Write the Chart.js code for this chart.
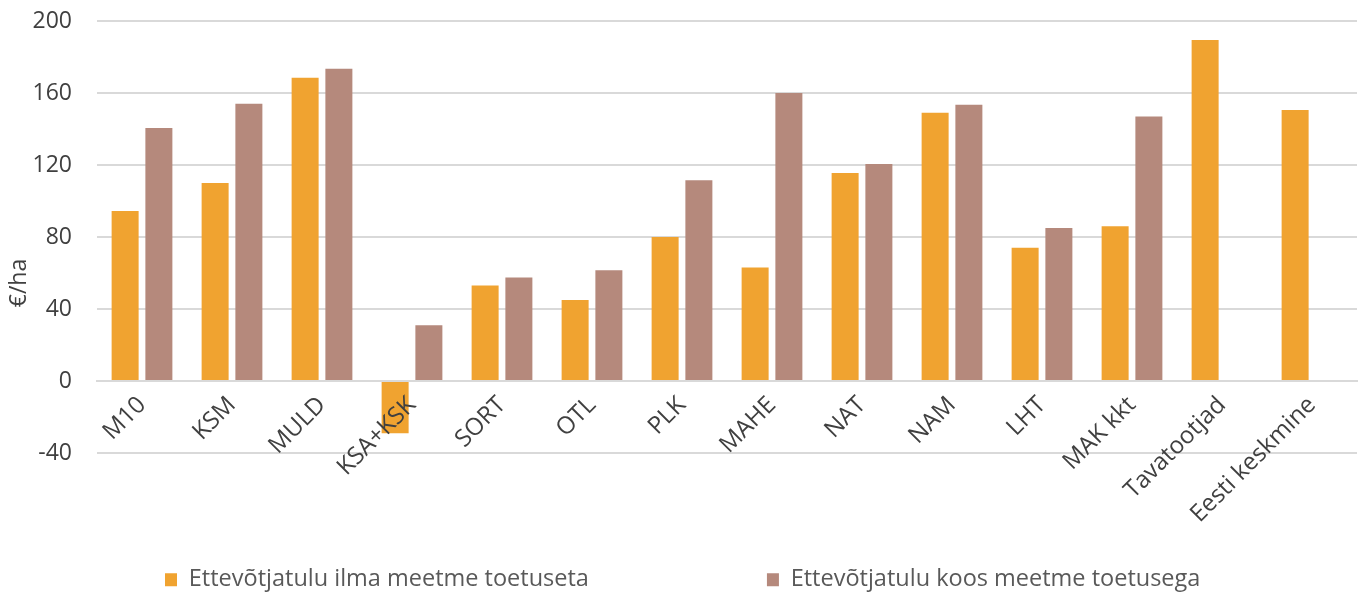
<!DOCTYPE html>
<html>
<head>
<meta charset="utf-8">
<script src="https://cdn.jsdelivr.net/npm/chart.js@4"></script>
<style>
  body { margin: 0; background: #fff; }
  #wrap { width: 1365px; height: 596px; }
</style>
</head>
<body>
<div id="wrap"><canvas id="tuluChart"></canvas></div>
<script>
const categories = ['M10', 'KSM', 'MULD', 'KSA+KSK', 'SORT', 'OTL', 'PLK', 'MAHE', 'NAT', 'NAM', 'LHT', 'MAK kkt', 'Tavatootjad', 'Eesti keskmine'];
const ilmaToetuseta = [94.5, 110, 168.5, -29, 53, 45, 80, 63, 115.5, 149, 74, 86, 189.5, 150.5];
const kooseToetusega = [140.5, 154, 173.5, 31, 57.5, 61.5, 111.5, 160, 120.5, 153.5, 85, 147, null, null];
const yTicks = [-40, 0, 40, 80, 120, 160, 200];
const yTitle = '€/ha';

const fontFamily = '"Open Sans", sans-serif';
const legendGap = 178;

// legend sits far below the plot, with a wide gap between its two items
const legendPlacer = {
    id: 'legendPlacer',
    beforeInit(chart) {
        const legend = chart.legend;
        const fit = legend.fit;
        legend.fit = function() {
            const w = this.maxWidth;
            this.maxWidth = 3000; // keep both items on one row
            fit.call(this);
            this.maxWidth = w;
            this.width = w;
            this.height = 143;
        };
    },
    afterLayout(chart) {
        const legend = chart.legend;
        legend.top -= 63;
        legend.left = 165 - legendGap;
        legend.right = 3000;
    }
};

// y title sits a bit lower than the middle of the plot, like in the original
const yTitlePlugin = {
    id: 'yTitlePlugin',
    afterDraw(chart) {
        const c = chart.ctx;
        c.save();
        c.translate(19, 283);
        c.rotate(-Math.PI / 2);
        c.font = '23px ' + fontFamily;
        c.fillStyle = '#404040';
        c.textAlign = 'center';
        c.textBaseline = 'middle';
        c.fillText(yTitle, 0, 0);
        c.restore();
    }
};

const ctx = document.getElementById('tuluChart').getContext('2d');
const tuluChart = new Chart(ctx, {
    type: 'bar',
    data: {
        labels: categories,
        datasets: [{
            label: 'Ettevõtjatulu ilma meetme toetuseta',
            data: ilmaToetuseta,
            backgroundColor: '#F0A330'
        }, {
            label: 'Ettevõtjatulu koos meetme toetusega',
            data: kooseToetusega,
            backgroundColor: '#B5897C'
        }]
    },
    options: {
        responsive: true,
        maintainAspectRatio: false,
        animation: false,
        categoryPercentage: 0.75,
        barPercentage: 0.8,
        layout: { padding: { top: 0, right: 8, left: 0, bottom: 0 } },
        plugins: {
            legend: {
                position: 'bottom',
                align: 'start',
                labels: {
                    boxWidth: 12,
                    boxHeight: 13,
                    padding: legendGap,
                    color: '#595959',
                    font: { family: fontFamily, size: 23.5 }
                }
            },
            tooltip: { enabled: false }
        },
        scales: {
            x: {
                position: { y: 0 },
                grid: { display: false },
                border: { color: '#D9D9D9', width: 2 },
                afterFit(axis) {
                    axis.paddingLeft = 0;
                    axis.paddingRight = 0;
                },
                ticks: {
                    z: 1,
                    minRotation: 45,
                    maxRotation: 45,
                    autoSkip: false,
                    padding: 2,
                    color: '#404040',
                    font: { family: fontFamily, size: 24 }
                }
            },
            y: {
                min: -40,
                max: 200,
                afterBuildTicks(axis) {
                    axis.ticks = yTicks.map(v => ({ value: v }));
                },
                afterFit(axis) {
                    axis.width = 97;
                    axis.paddingTop = 21;
                    axis.paddingBottom = 0;
                },
                grid: { color: '#D9D9D9', lineWidth: 2, drawTicks: false },
                border: { display: false },
                ticks: {
                    padding: 25,
                    color: '#404040',
                    font: { family: fontFamily, size: 23 }
                }
            }
        }
    },
    plugins: [legendPlacer, yTitlePlugin]
});
</script>
</body>
</html>
